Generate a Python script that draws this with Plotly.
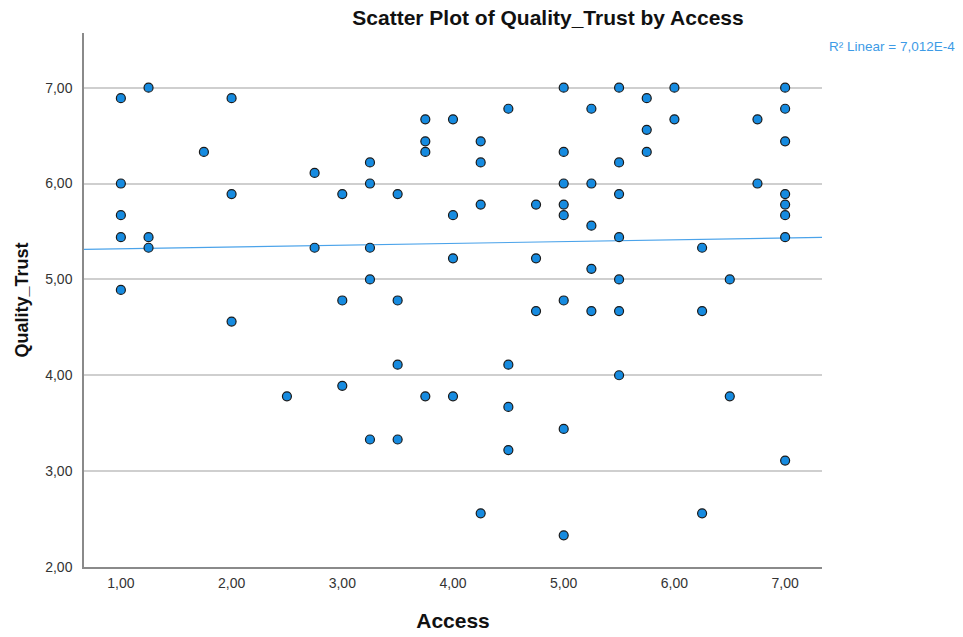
import numpy as np
import plotly.graph_objects as go

# Access score (x) and Quality_Trust score (y) per respondent
access = [
    1.00, 1.00, 1.00, 1.00, 1.00,
    1.25, 1.25, 1.25,
    1.75,
    2.00, 2.00, 2.00,
    2.50,
    2.75, 2.75,
    3.00, 3.00, 3.00,
    3.25, 3.25, 3.25, 3.25, 3.25,
    3.50, 3.50, 3.50, 3.50,
    3.75, 3.75, 3.75, 3.75,
    4.00, 4.00, 4.00, 4.00,
    4.25, 4.25, 4.25, 4.25,
    4.50, 4.50, 4.50, 4.50,
    4.75, 4.75, 4.75,
    5.00, 5.00, 5.00, 5.00, 5.00, 5.00, 5.00, 5.00,
    5.25, 5.25, 5.25, 5.25, 5.25,
    5.50, 5.50, 5.50, 5.50, 5.50, 5.50, 5.50,
    5.75, 5.75, 5.75,
    6.00, 6.00,
    6.25, 6.25, 6.25,
    6.50, 6.50,
    6.75, 6.75,
    7.00, 7.00, 7.00, 7.00, 7.00, 7.00, 7.00, 7.00,
]
quality_trust = [
    6.89, 6.00, 5.67, 5.44, 4.89,
    7.00, 5.44, 5.33,
    6.33,
    6.89, 5.89, 4.56,
    3.78,
    6.11, 5.33,
    5.89, 4.78, 3.89,
    6.22, 6.00, 5.33, 5.00, 3.33,
    5.89, 4.78, 4.11, 3.33,
    6.67, 6.44, 6.33, 3.78,
    6.67, 5.67, 5.22, 3.78,
    6.44, 6.22, 5.78, 2.56,
    6.78, 4.11, 3.67, 3.22,
    5.78, 5.22, 4.67,
    7.00, 6.33, 6.00, 5.78, 5.67, 4.78, 3.44, 2.33,
    6.78, 6.00, 5.56, 5.11, 4.67,
    7.00, 6.22, 5.89, 5.44, 5.00, 4.67, 4.00,
    6.89, 6.56, 6.33,
    7.00, 6.67,
    5.33, 4.67, 2.56,
    5.00, 3.78,
    6.67, 6.00,
    7.00, 6.78, 6.44, 5.89, 5.78, 5.67, 5.44, 3.11,
]

x_ticks = [1, 2, 3, 4, 5, 6, 7]
y_ticks = [2, 3, 4, 5, 6, 7]
x_range = [0.667, 7.333]
y_range = [2.0, 7.57]

# Linear fit on the full sample (R² = 7,012E-4)
fit_intercept = 5.30
fit_slope = 0.0188
r2_label = "R² Linear = 7,012E-4"

FONT = "Liberation Sans, Arial, sans-serif"

fit_x = np.array(x_range)
fit_y = fit_intercept + fit_slope * fit_x

fig = go.Figure()

fig.add_trace(go.Scatter(
    x=fit_x, y=fit_y, mode="lines",
    line=dict(color="#4ba3ea", width=1.2),
    hoverinfo="skip", showlegend=False,
))

fig.add_trace(go.Scatter(
    x=access, y=quality_trust, mode="markers",
    marker=dict(size=9, color="#168be0",
                line=dict(color="#1a1a1a", width=1.2)),
    showlegend=False,
))

fig.add_annotation(
    text=r2_label, xref="paper", yref="paper",
    x=1.0 + 5 / 738, y=1 - 14 / 534,
    xanchor="left", yanchor="middle", showarrow=False,
    font=dict(family=FONT, size=13.5, color="#3d9be6"),
)

fig.update_layout(
    width=963, height=637,
    margin=dict(l=84, r=141, t=33, b=70),
    paper_bgcolor="white", plot_bgcolor="white",
    separators=",.",
    font=dict(family=FONT, color="#333333"),
    title=dict(
        text="<b>Scatter Plot of Quality_Trust by Access</b>",
        x=548 / 963, xref="container", xanchor="center",
        y=1 - 18 / 637, yref="container", yanchor="middle",
        font=dict(family=FONT, size=21, color="#111111"),
    ),
    xaxis=dict(
        range=x_range, tickvals=x_ticks, tickformat=".2f",
        showgrid=False, zeroline=False, automargin=False,
        showline=True, linecolor="#8a8a8a", linewidth=1.5,
        ticks="outside", ticklen=2, tickcolor="white",
        tickfont=dict(family=FONT, size=14, color="#333333"),
        title=dict(text="<b>Access</b>", standoff=24,
                   font=dict(family=FONT, size=21, color="#111111")),
    ),
    yaxis=dict(
        range=y_range, tickvals=y_ticks, tickformat=".2f",
        showgrid=True, gridcolor="#cfcfcf", gridwidth=1.5,
        zeroline=False, automargin=False,
        showline=True, linecolor="#8a8a8a", linewidth=1.5,
        ticks="outside", ticklen=7, tickcolor="white",
        tickfont=dict(family=FONT, size=14, color="#333333"),
        title=dict(text="<b>Quality_Trust</b>", standoff=12,
                   font=dict(family=FONT, size=18, color="#111111")),
    ),
)

fig.write_html("out.html")
